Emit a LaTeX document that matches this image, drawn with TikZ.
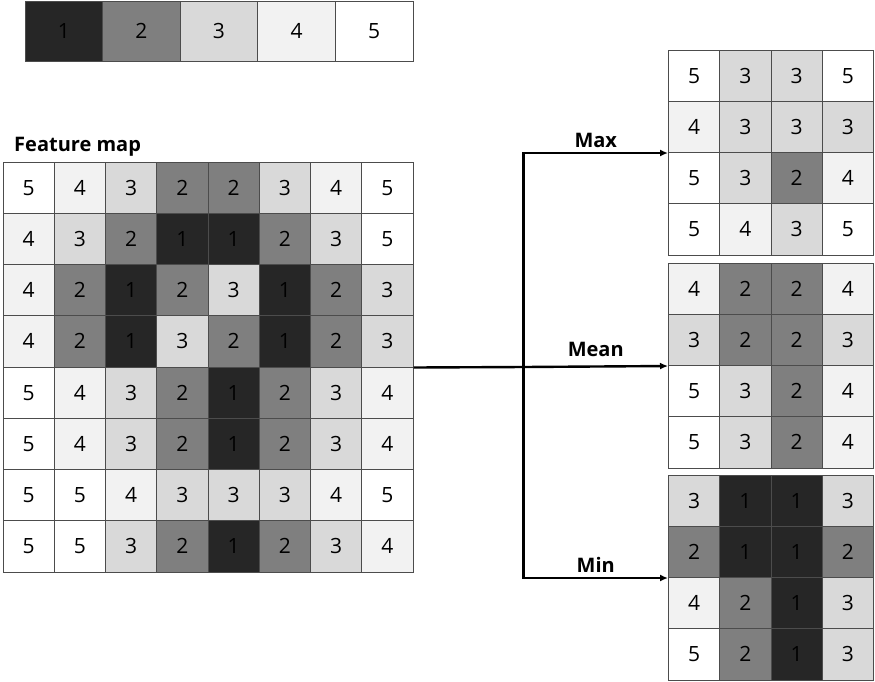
\documentclass[tikz,border=0pt]{standalone}
\usepackage{fontspec}
\setmainfont{Open Sans}
\usetikzlibrary{arrows.meta}
\definecolor{g1}{HTML}{262626}
\definecolor{g2}{HTML}{7F7F7F}
\definecolor{g3}{HTML}{D9D9D9}
\definecolor{g4}{HTML}{F2F2F2}
\definecolor{g5}{HTML}{FFFFFF}
\newcommand\drawgrid[6]{%
  \foreach \rowvals [count=\r] in {#6} {
    \foreach \v [count=\c] in \rowvals {
      \node[cell, fill=g\v, minimum width=#4pt, minimum height=#5pt]
        (#1-\r-\c) at ({#2+(\c-0.5)*#4},{#3+(\r-0.5)*#5}) {\v};
    }
  }%
}
\begin{document}
\begin{tikzpicture}[x=1pt,y=-1pt,
  cell/.style={draw=black!70, line width=1pt, inner sep=0pt,
    font=\fontsize{21}{25}\selectfont, text=black},
  conn/.style={line width=2.4pt, black},
  arr/.style={conn, -{Latex[length=8pt,width=7pt]}},
  lbl/.style={font=\fontsize{20}{24}\selectfont\bfseries, above, inner sep=4pt},
  title/.style={font=\fontsize{20}{24}\selectfont\bfseries, anchor=base west, inner sep=0pt}]
\useasboundingbox (0,0) rectangle (875,681);
% legend
\drawgrid{lg}{25}{1}{77.6}{60}{{1,2,3,4,5}}
% feature map
\node[title] (fmtitle) at (14,151) {Feature map};
\drawgrid{fm}{3}{162}{51.25}{51.25}{{5,4,3,2,2,3,4,5},{4,3,2,1,1,2,3,5},{4,2,1,2,3,1,2,3},{4,2,1,3,2,1,2,3},{5,4,3,2,1,2,3,4},{5,4,3,2,1,2,3,4},{5,5,4,3,3,3,4,5},{5,5,3,2,1,2,3,4}}
% results
\drawgrid{mx}{668.5}{50}{51.25}{51.25}{{5,3,3,5},{4,3,3,3},{5,3,2,4},{5,4,3,5}}
\drawgrid{me}{668.5}{263}{51.25}{51.25}{{4,2,2,4},{3,2,2,3},{5,3,2,4},{5,3,2,4}}
\drawgrid{mi}{668.5}{475}{51.25}{51.25}{{3,1,1,3},{2,1,1,2},{4,2,1,3},{5,2,1,3}}
% connectors
\coordinate (split) at (523.5,{162+4*51.25});
\draw[conn] (fm-4-8.south east) -- (split);
\draw[arr] (split) -- node[lbl, yshift=5pt]{Mean} (me-2-1.south west);
\draw[arr] (split) |- node[lbl, pos=0.75]{Max} (mx-2-1.south west);
\draw[arr] (split) |- node[lbl, pos=0.75]{Min} (mi-2-1.south west);
\end{tikzpicture}
\end{document}
